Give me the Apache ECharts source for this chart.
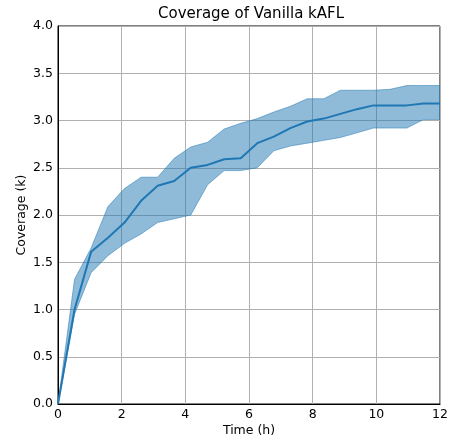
<!DOCTYPE html>
<html lang="en">
<head>
    <meta charset="UTF-8">
    <title>Coverage of Vanilla kAFL</title>
    <script src="https://cdn.jsdelivr.net/npm/echarts@6/dist/echarts.min.js"></script>
    <style>
        html, body { margin: 0; padding: 0; background: #fff; }
        #chart { width: 454px; height: 442px; }
    </style>
</head>
<body>
    <div id="chart"></div>
    <script>
        // time in hours
        var hours = [0, 0.52, 1.04, 1.57, 2.09, 2.61, 3.13, 3.65, 4.17, 4.70, 5.22, 5.74,
                     6.26, 6.78, 7.30, 7.83, 8.35, 8.87, 9.39, 9.91, 10.43, 10.96, 11.48, 12.0];
        // mean coverage (k)
        var meanCov = [0, 1.0, 1.61, 1.76, 1.92, 2.15, 2.31, 2.36, 2.50, 2.53, 2.59, 2.60,
                       2.76, 2.83, 2.92, 2.99, 3.02, 3.07, 3.12, 3.16, 3.16, 3.16, 3.18, 3.18];
        // band bounds
        var lowCov = [0, 0.95, 1.39, 1.57, 1.70, 1.80, 1.92, 1.96, 2.00, 2.32, 2.47, 2.47,
                      2.50, 2.68, 2.73, 2.76, 2.79, 2.82, 2.87, 2.92, 2.92, 2.92, 3.01, 3.01];
        var highCov = [0, 1.32, 1.65, 2.09, 2.28, 2.40, 2.40, 2.60, 2.72, 2.77, 2.91, 2.97,
                       3.02, 3.09, 3.15, 3.23, 3.23, 3.32, 3.32, 3.32, 3.33, 3.37, 3.37, 3.37];

        var chart = echarts.init(document.getElementById('chart'));
        var font = 'DejaVu Sans';

        var bandData = hours.map(function (h, i) { return [h, lowCov[i], highCov[i]]; });
        var meanData = hours.map(function (h, i) { return [h, meanCov[i]]; });

        // draw the whole band as one polygon (upper edge forward, lower edge back)
        function renderBand(params, api) {
            if (params.dataIndex !== 0) return;
            var pts = [];
            for (var i = 0; i < bandData.length; i++) {
                pts.push(api.coord([bandData[i][0], bandData[i][2]]));
            }
            for (var j = bandData.length - 1; j >= 0; j--) {
                pts.push(api.coord([bandData[j][0], bandData[j][1]]));
            }
            return {
                type: 'polygon',
                shape: { points: pts },
                style: { fill: 'rgba(31,119,180,0.5)', stroke: 'rgba(31,119,180,0.5)', lineWidth: 1 }
            };
        }

        chart.setOption({
            animation: false,
            title: {
                text: 'Coverage of Vanilla kAFL',
                left: 246, top: 2, textAlign: 'center',
                textStyle: { fontFamily: font, fontSize: 15, fontWeight: 'normal', color: '#000' }
            },
            grid: {
                left: 58, right: 14, top: 26, bottom: 38,
                outerBoundsMode: 'none', containLabel: false,
                show: true, borderColor: '#000', borderWidth: 1, backgroundColor: 'transparent'
            },
            xAxis: {
                type: 'value', min: 0, max: 12, interval: 2,
                name: 'Time (h)', nameLocation: 'middle', nameGap: 20, nameMoveOverlap: false,
                nameTextStyle: { fontFamily: font, fontSize: 12.5, color: '#000' },
                axisLine: { show: true, lineStyle: { color: '#000', width: 1 } },
                axisTick: { show: false },
                axisLabel: { fontFamily: font, fontSize: 12.5, color: '#000', margin: 4 },
                splitLine: { show: true, lineStyle: { color: '#b0b0b0', width: 1 } }
            },
            yAxis: {
                type: 'value', min: 0, max: 4, interval: 0.5,
                name: 'Coverage (k)', nameLocation: 'middle', nameGap: 30, nameMoveOverlap: false,
                nameTextStyle: { fontFamily: font, fontSize: 12.5, color: '#000' },
                axisLine: { show: true, lineStyle: { color: '#000', width: 1 } },
                axisTick: { show: false },
                axisLabel: {
                    fontFamily: font, fontSize: 12.5, color: '#000', margin: 5,
                    formatter: function (v) { return v.toFixed(1); }
                },
                splitLine: { show: true, lineStyle: { color: '#b0b0b0', width: 1 } }
            },
            series: [
                {
                    type: 'custom', data: bandData, renderItem: renderBand,
                    encode: { x: 0, y: [1, 2] }, silent: true, clip: true
                },
                {
                    type: 'line', data: meanData, symbol: 'none',
                    lineStyle: { color: '#1f77b4', width: 2 }
                }
            ]
        });
    </script>
</body>
</html>
